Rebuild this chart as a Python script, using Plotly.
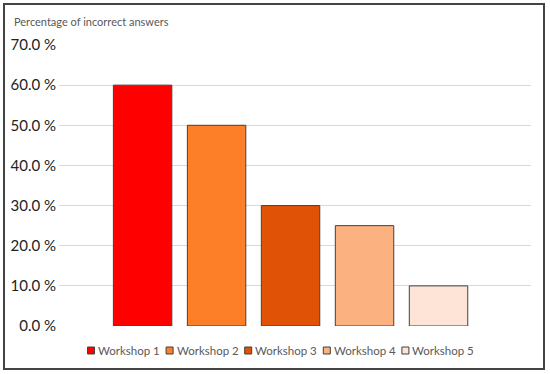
import plotly.graph_objects as go

categories = ["Workshop 1", "Workshop 2", "Workshop 3", "Workshop 4", "Workshop 5"]
values = [60.0, 50.0, 30.0, 25.0, 10.0]
colors = ["#FF0000", "#FD7F27", "#E05206", "#FCB180", "#FDE4D7"]
title_text = "Percentage of incorrect answers"

fig = go.Figure()
for cat, val, col in zip(categories, values, colors):
    fig.add_trace(go.Bar(
        x=[cat], y=[val], name=cat, width=0.79, showlegend=False,
        marker=dict(color=col, line=dict(color="#404040", width=1)),
    ))

L, R, T, B = 59, 19, 45, 48
W, H = 550, 374
pw, ph = W - L - R, H - T - B

def px(x):
    return (x - L) / pw

def py(y):
    return (H - B - y) / ph

FONT = "Lato, Open Sans, Liberation Sans, sans-serif"

# legend (drawn as keys + labels below the plot)
LEG_X0, LEG_STEP, LEG_Y, KEY = 87.5, 78.6, 350.5, 7
shapes = [dict(type="rect", xref="paper", yref="paper",
               x0=px(4), x1=px(544), y0=py(369), y1=py(4),
               line=dict(color="#444444", width=2), fillcolor="rgba(0,0,0,0)", layer="below")]
annotations = [dict(text=title_text, xref="paper", yref="paper", x=px(12), y=py(22),
                    xanchor="left", yanchor="middle", showarrow=False,
                    font=dict(size=11, color="#595959"))]
for i, (cat, col) in enumerate(zip(categories, colors)):
    x0 = LEG_X0 + i * LEG_STEP
    shapes.append(dict(type="rect", xref="paper", yref="paper",
                       x0=px(x0), x1=px(x0 + KEY), y0=py(LEG_Y + KEY / 2), y1=py(LEG_Y - KEY / 2),
                       line=dict(color="#404040", width=1), fillcolor=col))
    annotations.append(dict(text=cat, xref="paper", yref="paper", x=px(x0 + KEY + 1.5), y=py(LEG_Y),
                            xanchor="left", yanchor="middle", showarrow=False,
                            font=dict(size=11.5, color="#595959")))

fig.update_layout(
    width=W, height=H,
    margin=dict(l=L, r=R, t=T, b=B, autoexpand=False),
    paper_bgcolor="white", plot_bgcolor="white",
    barmode="overlay",
    showlegend=False,
    font=dict(family=FONT, color="#222222"),
    xaxis=dict(type="category", range=[-1.13, 5.25], showticklabels=False,
               showgrid=False, zeroline=False, showline=False, ticks=""),
    yaxis=dict(range=[0, 70], dtick=10, tickformat=".1f", ticksuffix=" %",
               showgrid=True, gridcolor="#d9d9d9", gridwidth=1,
               zeroline=False, showline=False, ticks="",
               tickfont=dict(size=15, color="#222222"), ticklabelstandoff=2),
    shapes=shapes,
    annotations=annotations,
)

fig.write_html("out.html", config={"displayModeBar": False},
               post_script="document.body.style.margin='0px';")
